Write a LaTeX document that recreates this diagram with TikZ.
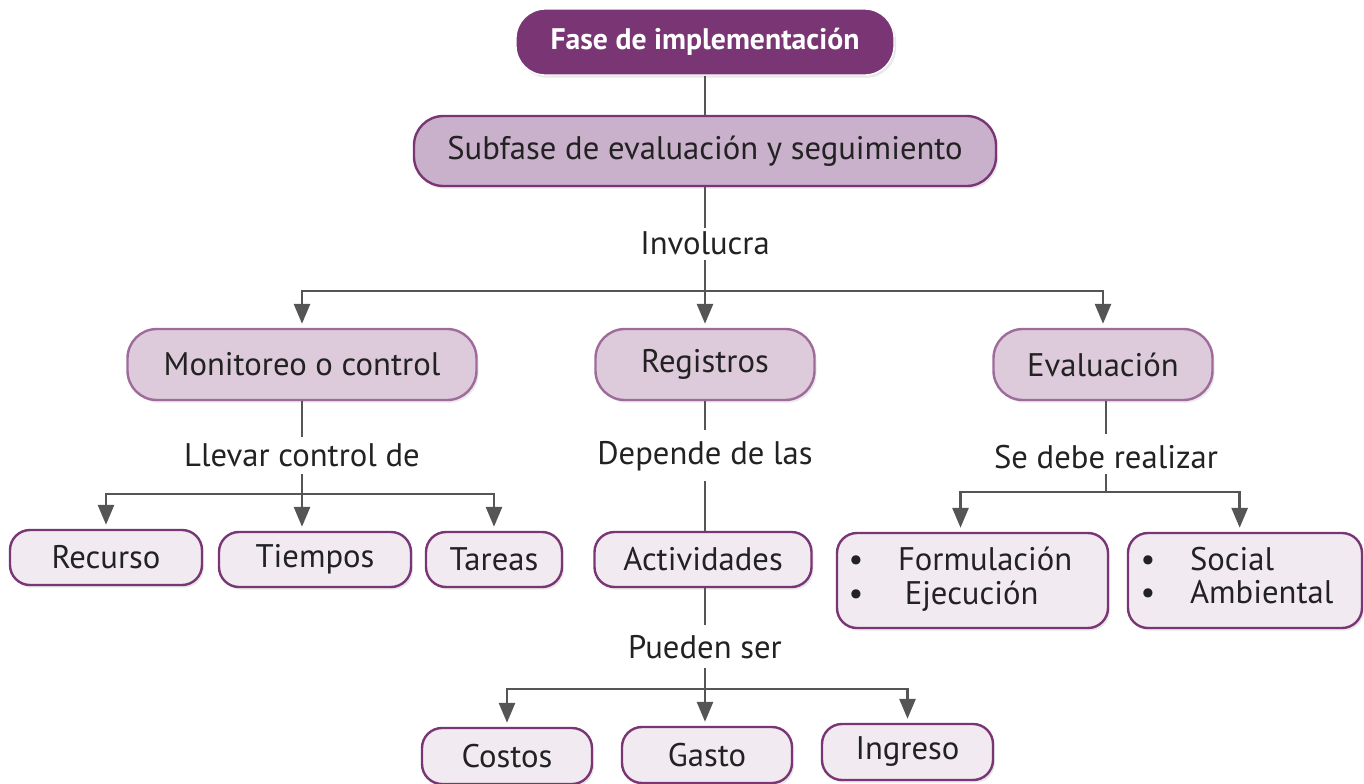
\documentclass[tikz,border=0pt]{standalone}
\usepackage{fontspec}
\setmainfont{PT Sans}
\usetikzlibrary{arrows.meta,shadows}
\definecolor{dpurple}{HTML}{7A3674}
\definecolor{subfill}{HTML}{C9B0CB}
\definecolor{midfill}{HTML}{DDCADB}
\definecolor{midborder}{HTML}{9E6B9B}
\definecolor{leaffill}{HTML}{F2EAF1}
\definecolor{linegray}{HTML}{555555}
\definecolor{txt}{HTML}{222222}
\tikzset{
  base/.style={rounded corners=22pt, text=txt, font=\fontsize{24.5}{24}\selectfont,
    inner sep=0pt, drop shadow={opacity=0.18, shadow xshift=1.5pt, shadow yshift=-2pt}},
  topbox/.style={base, fill=dpurple, draw=white, line width=1pt, text=white, font=\fontsize{22.3}{26}\selectfont\bfseries},
  subbox/.style={base, fill=subfill, draw=dpurple, line width=1.8pt},
  midbox/.style={base, fill=midfill, draw=midborder, line width=1.8pt},
  leafbox/.style={base, fill=leaffill, draw=dpurple, line width=1.8pt, rounded corners=15pt},
  lbl/.style={text=txt, font=\fontsize{24.5}{28}\selectfont, inner sep=0pt},
  conn/.style={draw=linegray, line width=2.1pt},
  arr/.style={conn, -{Triangle[length=15pt,width=12pt]}, shorten >=3pt},
}
\begin{document}
\begin{tikzpicture}[x=0.75pt,y=-0.75pt]
\useasboundingbox (0,0) rectangle (1364,783);
% boxes
\node[topbox, minimum width=378*0.75pt, minimum height=66*0.75pt] (fase) at (705,42) {Fase de implementación};
\node[subbox, minimum width=582*0.75pt, minimum height=70*0.75pt] (sub) at (705,151) {Subfase de evaluación y seguimiento};
\node[midbox, minimum width=349*0.75pt, minimum height=71*0.75pt] (mon) at (302,364.5) {Monitoreo o control};
\node[midbox, minimum width=219*0.75pt, minimum height=71*0.75pt] (reg) at (705,364.5) {Registros};
\node[midbox, minimum width=219*0.75pt, minimum height=71*0.75pt] (eva) at (1103,364.5) {Evaluación};
\node[leafbox, minimum width=192*0.75pt, minimum height=55*0.75pt] (rec) at (106,557.5) {Recurso};
\node[leafbox, minimum width=192*0.75pt, minimum height=55*0.75pt] (tie) at (315,559.5) {Tiempos};
\node[leafbox, minimum width=136*0.75pt, minimum height=55*0.75pt] (tar) at (494,559.5) {Tareas};
\node[leafbox, minimum width=217*0.75pt, minimum height=55*0.75pt] (act) at (703,559.5) {Actividades};
\node[leafbox, minimum width=271*0.75pt, minimum height=95*0.75pt] (for) at (972.5,580.5)
  {\begin{tabular}{@{}l@{\hspace{26pt}}l@{\hspace{18pt}}}\textbullet & Formulación\\ \textbullet & \hspace{5pt}Ejecución\end{tabular}};
\node[leafbox, minimum width=234*0.75pt, minimum height=95*0.75pt] (soc) at (1245,580.5)
  {\begin{tabular}{@{}l@{\hspace{26pt}}l@{\hspace{12pt}}}\textbullet & Social\\ \textbullet & Ambiental\end{tabular}};
\node[leafbox, minimum width=170*0.75pt, minimum height=56*0.75pt] (cos) at (507,756) {Costos};
\node[leafbox, minimum width=170*0.75pt, minimum height=56*0.75pt] (gas) at (707,755) {Gasto};
\node[leafbox, minimum width=171*0.75pt, minimum height=56*0.75pt] (ing) at (907.5,752) {Ingreso};
% labels
\node[lbl] (linv) at (705,243) {Involucra};
\node[lbl] (lmon) at (302,455) {Llevar control de};
\node[lbl] (lreg) at (705,456) {Depende de las};
\node[lbl] (leva) at (1106,457) {Se debe realizar};
\node[lbl] (lact) at (705,647) {Pueden ser};
% junction coordinates
\coordinate (jinv) at (705,291);
\coordinate (jmon) at (302,494);
\coordinate (jeva) at (1106,492);
\coordinate (jact) at (705,689);
\coordinate (tinv) at (705,260);
\coordinate (tmon) at (302,474);
\coordinate (teva) at (1106,474);
\coordinate (tact) at (705,668);
\coordinate (sreg) at (705,430);
\coordinate (treg) at (705,481);
\coordinate (seva) at (1106,400);
\coordinate (sact) at (705,625);
\coordinate (sinv) at (705,228);
\coordinate (smon2) at (302,437);
\coordinate (seva2) at (1106,434);
% connectors
\draw[conn] (fase.south) -- (sub.north);
\draw[conn] (sub.south) -- (sinv);
\draw[conn] (tinv) -- (jinv);
\draw[arr] (jinv) -| (mon.north);
\draw[arr] (jinv) -| (eva.north);
\draw[arr] (jinv) -- (reg.north);
\draw[conn] (mon.south) -- (smon2);
\draw[conn] (tmon) -- (jmon);
\draw[arr] (jmon) -| (rec.north);
\draw[arr] (jmon) -| (tar.north);
\draw[arr] (jmon) -- (tie.north -| jmon);
\draw[conn] (reg.south) -- (sreg);
\draw[conn] (treg) -- (act.north -| treg);
\draw[conn] (act.south -| sact) -- (sact);
\draw[conn] (tact) -- (jact);
\draw[arr] (jact) -| (cos.north);
\draw[arr] (jact) -| (ing.north);
\draw[arr] (jact) -- (gas.north -| jact);
\draw[conn] (eva.south -| seva) -- (seva2);
\draw[conn] (teva) -- (jeva);
\draw[arr] (jeva) -| ([xshift=-9pt]for.north);
\draw[arr] (jeva) -| ([xshift=-4pt]soc.north);
\end{tikzpicture}
\end{document}
